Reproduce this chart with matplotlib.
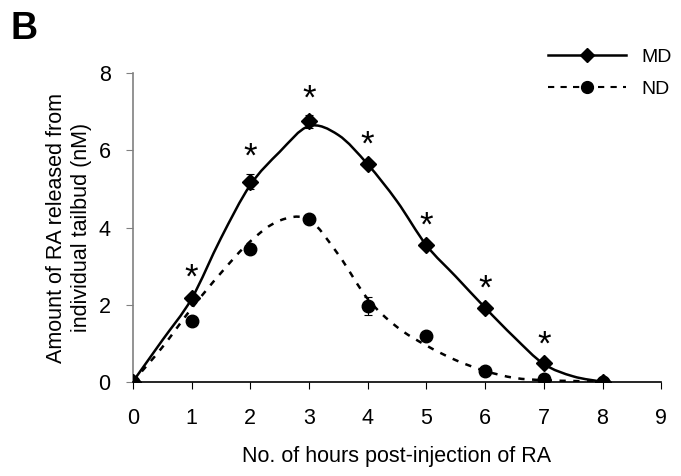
import numpy as np
import matplotlib.pyplot as plt
from matplotlib.path import Path
from matplotlib.patches import PathPatch
from matplotlib.lines import Line2D

plt.rcParams['font.family'] = ['Liberation Sans', 'DejaVu Sans']

hours = [0, 1, 2, 3, 4, 5, 6, 7, 8]
md = [0, 2.16, 5.19, 6.75, 5.66, 3.54, 1.92, 0.48, 0]
md_err = [0, 0.1, 0.2, 0.16, 0.06, 0.08, 0.05, 0.05, 0]
nd = [0, 1.58, 3.45, 4.23, 1.97, 1.18, 0.27, 0.06, 0]
nd_err = [0, 0.1, 0.12, 0.07, 0.23, 0.05, 0.03, 0.03, 0]
signif = [1, 2, 3, 4, 5, 6, 7]

# smoothed trend lines, every half hour
fit_hours = [0, 0.5, 1, 1.5, 2, 2.5, 3, 3.5, 4, 4.5, 5, 5.5, 6, 6.5, 7, 7.5, 8]
md_fit = [0, 1.07, 2.15, 3.72, 5.1, 5.96, 6.63, 6.4, 5.64, 4.68, 3.54, 2.73,
          1.92, 1.15, 0.46, 0.14, 0]
nd_fit = [0, 0.89, 1.9, 2.82, 3.64, 4.18, 4.2, 3.3, 2.15, 1.42, 0.94, 0.56,
          0.28, 0.1, 0.04, 0.02, 0]


def smooth_path(xs, ys):
    # catmull-rom through the knots, as cubic bezier segments
    xs = np.asarray(xs, float)
    ys = np.asarray(ys, float)
    pts = np.column_stack([xs, ys])
    verts = [pts[0]]
    codes = [Path.MOVETO]
    n = len(pts)
    for i in range(n - 1):
        p0 = pts[max(i - 1, 0)]
        p1 = pts[i]
        p2 = pts[i + 1]
        p3 = pts[min(i + 2, n - 1)]
        verts += [p1 + (p2 - p0) / 6, p2 - (p3 - p1) / 6, p2]
        codes += [Path.CURVE4] * 3
    return Path(verts, codes)


fig = plt.figure(figsize=(6.81, 4.76), dpi=100)
ax = fig.add_axes([0.195, 0.198, 0.776, 0.648])

ax.add_patch(PathPatch(smooth_path(fit_hours, md_fit), fill=False,
                       color='black', lw=1.8, zorder=2))
ax.add_patch(PathPatch(smooth_path(fit_hours, nd_fit), fill=False,
                       color='black', lw=1.8, linestyle=(0, (2.5, 3)),
                       zorder=2))

ax.errorbar(hours, md, yerr=md_err, fmt='D', color='black', ms=8.5,
            ecolor='black', elinewidth=0.8, capsize=3, capthick=0.8, zorder=3)
ax.errorbar(hours, nd, yerr=nd_err, fmt='o', color='black', ms=9,
            ecolor='black', elinewidth=0.8, capsize=3, capthick=0.8, zorder=3)

for h in signif:
    ax.annotate('*', (h, md[h] + md_err[h]), xytext=(0, 0),
                textcoords='offset points', ha='center', va='bottom',
                fontsize=25)

ax.set_xlim(0, 9)
ax.set_ylim(0, 8)
ax.set_xticks(range(0, 10))
ax.set_yticks([0, 2, 4, 6, 8])
ax.tick_params(axis='both', labelsize=15.5, direction='out', length=5)
ax.tick_params(axis='x', pad=14)
ax.tick_params(axis='y', colors='#808080', labelcolor='black', pad=11)
ax.spines['top'].set_visible(False)
ax.spines['right'].set_visible(False)
ax.spines['left'].set_color('#808080')
ax.spines['left'].set_linewidth(1.2)
ax.spines['bottom'].set_linewidth(1.2)
for s in ax.spines.values():
    s.set_clip_on(False)

ax.set_xlabel('No. of hours post-injection of RA', fontsize=15.5, labelpad=12)
ax.set_ylabel('Amount of RA released from\nindividual tailbud (nM)',
              fontsize=15.5, labelpad=5)

handles = [
    Line2D([], [], color='black', lw=1.8, marker='D', ms=7),
    Line2D([], [], color='black', lw=1.5, ls=(0, (3, 3)), marker='o', ms=8.5),
]
fig.legend(handles, ['MD', 'ND'], loc='upper right',
           bbox_to_anchor=(1.012, 0.935), frameon=False, fontsize=14,
           handlelength=4.0, labelspacing=0.75, handletextpad=0.8)

fig.text(0.016, 0.918, 'B', fontsize=27, fontweight='bold')

fig.savefig('out.png', dpi=100)
